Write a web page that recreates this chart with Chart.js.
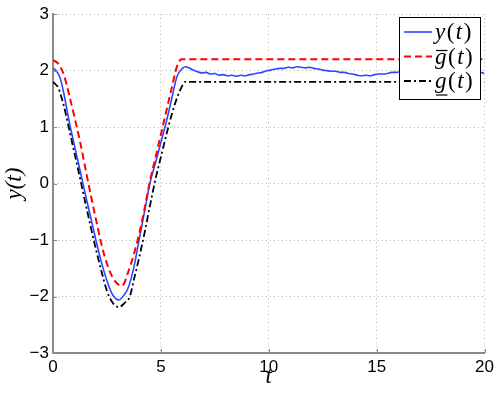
<!DOCTYPE html>
<html>
<head>
<meta charset="utf-8">
<script src="https://cdn.jsdelivr.net/npm/chart.js@4/dist/chart.umd.min.js"></script>
<style>
  html, body { margin: 0; padding: 0; background: #fff; }
  #wrap { width: 498px; height: 394px; }
</style>
</head>
<body>
<div id="wrap"><canvas id="plot" width="498" height="394"></canvas></div>
<script>
// axis ticks
const xTicks = [0, 5, 10, 15, 20];
const yTicks = [-3, -2, -1, 0, 1, 2, 3];
const yTickLabels = ['\u22123', '\u22122', '\u22121', '0', '1', '2', '3'];

// upper bound g-bar(t), red dashed
const upperT = [0, 0.25, 0.5, 0.75, 1.0, 1.25, 1.5, 1.75, 2.0, 2.25, 2.5, 2.75, 3.0, 3.2, 3.5, 3.75, 4.0, 4.25, 4.5, 4.75, 5.0, 5.25, 5.5, 5.75, 5.96, 20];
const upperY = [2.19, 2.12, 1.93, 1.57, 1.17, 0.75, 0.27, -0.2, -0.65, -1.08, -1.42, -1.65, -1.78, -1.81, -1.55, -1.25, -0.88, -0.43, 0.06, 0.46, 0.87, 1.28, 1.69, 2.08, 2.2, 2.2];

// lower bound g(t), black dash-dot
const lowerT = [0, 0.25, 0.5, 0.75, 1.0, 1.25, 1.5, 1.75, 2.0, 2.25, 2.5, 2.75, 3.05, 3.3, 3.56, 3.75, 4.0, 4.25, 4.5, 4.75, 5.0, 5.25, 5.5, 5.75, 6.0, 6.11, 20];
const lowerY = [1.8, 1.69, 1.38, 0.96, 0.53, 0.1, -0.34, -0.77, -1.18, -1.56, -1.9, -2.1, -2.19, -2.12, -2.0, -1.7, -1.3, -0.86, -0.38, 0.08, 0.47, 0.86, 1.22, 1.52, 1.74, 1.8, 1.8];

// output y(t), blue solid
const outT = [0, 0.1, 0.2, 0.35, 0.5, 0.75, 1.0, 1.25, 1.5, 1.75, 2.0, 2.25, 2.5, 2.75, 3.05, 3.3, 3.5, 3.75, 4.0, 4.25, 4.5, 4.75, 5.0, 5.25, 5.5, 5.75, 6.0, 6.15, 6.3,
  6.5, 6.7, 6.9, 7.1, 7.3, 7.5, 7.7, 7.9, 8.1, 8.3, 8.5, 8.7, 8.9, 9.1, 9.3, 9.5, 9.7, 9.9, 10.1, 10.3, 10.5, 10.7, 10.9, 11.1, 11.3, 11.5, 11.7, 11.9,
  12.1, 12.3, 12.5, 12.7, 12.9, 13.1, 13.3, 13.5, 13.7, 13.9, 14.1, 14.3, 14.5, 14.7, 14.9, 15.1, 15.3, 15.5, 15.7, 15.9, 16.2, 16.6, 17, 17.5, 18, 18.5, 19, 19.5, 19.8, 20];
const outY = [2.04, 2.02, 1.97, 1.85, 1.6, 1.1, 0.66, 0.24, -0.19, -0.6, -1.02, -1.4, -1.72, -1.96, -2.06, -1.97, -1.83, -1.48, -0.98, -0.48, 0.02, 0.37, 0.73, 1.09, 1.5, 1.9, 2.04, 2.07, 2.05,
  2.01, 1.98, 1.96, 1.97, 1.94, 1.95, 1.92, 1.93, 1.91, 1.92, 1.9, 1.92, 1.91, 1.93, 1.94, 1.96, 1.97, 2.0, 2.01, 2.03, 2.04, 2.04, 2.06, 2.05, 2.07, 2.06, 2.05, 2.06,
  2.04, 2.03, 2.01, 2.0, 1.99, 1.99, 1.97, 1.97, 1.95, 1.94, 1.92, 1.91, 1.92, 1.91, 1.93, 1.94, 1.94, 1.95, 1.97, 1.97, 1.99, 2.0, 2.01, 2.02, 2.01, 2.0, 1.99, 1.98, 1.97, 1.95];

function toPoints(ts, ys) {
  return ts.map((t, i) => ({x: t, y: ys[i]}));
}

const BLUE = '#2b47ff';
const RED = '#ff0000';
const BLACK = '#000000';
const SERIF = '"Liberation Serif", "DejaVu Serif", serif';
const SANS = '"Liberation Sans", Arial, sans-serif';

// legend entries: pieces of math text + mark under/over the g
const legendRows = [
  {color: BLUE, dash: [], width: 1.6, mark: null},
  {color: RED, dash: [7, 4], width: 2, mark: 'over'},
  {color: BLACK, dash: [7, 3, 2, 3], width: 1.8, mark: 'under'}
];
const legendLetters = ['y', 'g', 'g'];

function drawMath(ctx, x, y, letter, mark, size) {
  const pieces = [[letter, true], ['(', false], ['t', true], [')', false]];
  ctx.fillStyle = '#000';
  ctx.textBaseline = 'middle';
  ctx.textAlign = 'left';
  let cx = x;
  pieces.forEach((p, i) => {
    ctx.font = (p[1] ? 'italic ' : '') + size + 'px ' + SERIF;
    const w = ctx.measureText(p[0]).width;
    ctx.fillText(p[0], cx, y);
    if (i === 0 && mark) {
      ctx.save();
      ctx.strokeStyle = '#000';
      ctx.lineWidth = 1.2;
      ctx.beginPath();
      const ly = mark === 'over' ? y - 7 : y + 13;
      ctx.moveTo(cx + 1, ly);
      ctx.lineTo(cx + w + 1, ly);
      ctx.stroke();
      ctx.restore();
    }
    cx += w + 1.5;
  });
}

const extras = {
  id: 'extras',
  afterDraw(chart) {
    const ctx = chart.ctx;
    const xs = chart.scales.x, ys = chart.scales.y;
    const area = chart.chartArea;
    // inner tick marks on left and bottom axes
    ctx.save();
    ctx.strokeStyle = '#8a8a8a';
    ctx.lineWidth = 1;
    xTicks.forEach(v => {
      const px = Math.round(xs.getPixelForValue(v)) + 0.5;
      ctx.beginPath();
      ctx.moveTo(px, area.bottom);
      ctx.lineTo(px, area.bottom - 4);
      ctx.stroke();
    });
    yTicks.forEach(v => {
      const py = Math.round(ys.getPixelForValue(v)) + 0.5;
      ctx.beginPath();
      ctx.moveTo(area.left, py);
      ctx.lineTo(area.left + 4, py);
      ctx.stroke();
    });
    ctx.restore();

    // legend box in the top right corner
    const bx = 399, by = 17, bw = 81, bh = 82;
    ctx.save();
    ctx.fillStyle = '#fff';
    ctx.fillRect(bx, by, bw, bh);
    ctx.strokeStyle = '#000';
    ctx.lineWidth = 1;
    ctx.strokeRect(bx + 0.5, by + 0.5, bw, bh);
    legendRows.forEach((r, i) => {
      const ry = by + 15 + i * 24.5;
      ctx.save();
      ctx.strokeStyle = r.color;
      ctx.lineWidth = r.width;
      ctx.setLineDash(r.dash);
      ctx.beginPath();
      ctx.moveTo(bx + 5, ry);
      ctx.lineTo(bx + 33, ry);
      ctx.stroke();
      ctx.restore();
      drawMath(ctx, bx + 36, ry + 1, legendLetters[i], r.mark, 23);
    });
    ctx.restore();
  }
};

new Chart(document.getElementById('plot'), {
  type: 'line',
  data: {
    datasets: [
      {
        label: 'y(t)',
        data: toPoints(outT, outY),
        borderColor: BLUE,
        borderWidth: 1.6,
        pointRadius: 0,
        cubicInterpolationMode: 'monotone',
        order: 3
      },
      {
        label: 'g\u0305(t)',
        data: toPoints(upperT, upperY),
        borderColor: RED,
        borderWidth: 2,
        borderDash: [7, 4],
        pointRadius: 0,
        cubicInterpolationMode: 'monotone',
        order: 2
      },
      {
        label: 'g\u0332(t)',
        data: toPoints(lowerT, lowerY),
        borderColor: BLACK,
        borderWidth: 1.8,
        borderDash: [7, 3, 2, 3],
        pointRadius: 0,
        cubicInterpolationMode: 'monotone',
        order: 1
      }
    ]
  },
  options: {
    responsive: false,
    animation: false,
    devicePixelRatio: 1,
    layout: { padding: { top: 12, right: 13, bottom: 0, left: 0 } },
    plugins: {
      legend: { display: false },
      tooltip: { enabled: false }
    },
    scales: {
      x: {
        type: 'linear',
        min: 0,
        max: 20,
        afterBuildTicks: s => { s.ticks = xTicks.map(v => ({value: v})); },
        afterFit: s => { s.height = 41; },
        ticks: {
          color: '#000',
          padding: 4,
          maxRotation: 0,
          font: { family: SANS, size: 17 },
          callback: v => String(v)
        },
        grid: { color: '#b4b4b4', lineWidth: 1, drawTicks: false },
        border: { display: true, color: '#8a8a8a', width: 2, dash: [1, 3] },
        title: {
          display: true,
          text: 't',
          color: '#000',
          padding: { top: 0, bottom: 3 },
          font: { family: SERIF, size: 23, style: 'italic' }
        }
      },
      y: {
        type: 'linear',
        min: -3,
        max: 3,
        afterBuildTicks: s => { s.ticks = yTicks.map(v => ({value: v})); },
        afterFit: s => { s.width = 53; },
        ticks: {
          color: '#000',
          padding: 4,
          font: { family: SANS, size: 17 },
          callback: (v) => yTickLabels[yTicks.indexOf(v)]
        },
        grid: { color: '#b4b4b4', lineWidth: 1, drawTicks: false },
        border: { display: true, color: '#8a8a8a', width: 2, dash: [1, 3] },
        title: {
          display: true,
          text: 'y(t)',
          color: '#000',
          padding: { top: 1, bottom: 0 },
          font: { family: SERIF, size: 23, style: 'italic' }
        }
      }
    }
  },
  plugins: [extras]
});
</script>
</body>
</html>
